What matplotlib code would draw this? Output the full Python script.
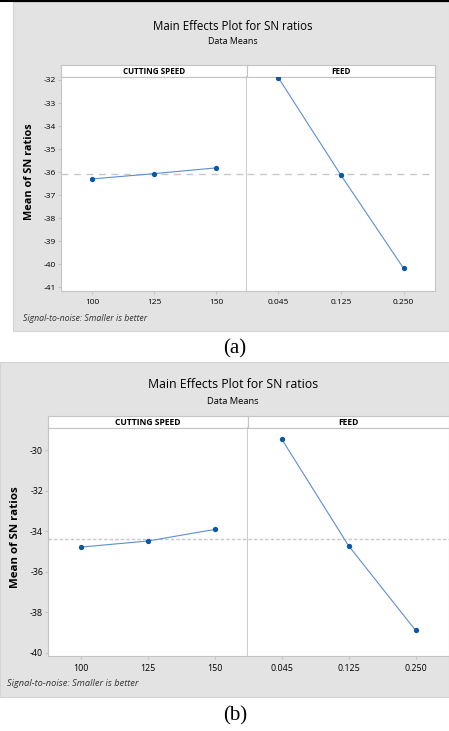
import numpy as np
import matplotlib
matplotlib.use('Agg')
import matplotlib.pyplot as plt
from matplotlib.patches import Rectangle
from matplotlib.lines import Line2D

plt.rcParams['font.family'] = ['Open Sans', 'DejaVu Sans']

#data
speed_levels = ['100', '125', '150']
feed_levels = ['0.045', '0.125', '0.250']
factor_names = ['CUTTING SPEED', 'FEED']

sn_speed_a = [-36.30, -36.07, -35.82]
sn_feed_a = [-31.90, -36.14, -40.19]
yticks_a = [-32, -33, -34, -35, -36, -37, -38, -39, -40, -41]

sn_speed_b = [-34.79, -34.49, -33.92]
sn_feed_b = [-29.44, -34.72, -38.90]
yticks_b = [-30, -32, -34, -36, -38, -40]

title = 'Main Effects Plot for SN ratios'
subtitle = 'Data Means'
ylabel = 'Mean of SN ratios'
footnote = 'Signal-to-noise: Smaller is better'

W, H = 449, 731
fig = plt.figure(figsize=(W/100, H/100), dpi=100)

def box(x0, y0, x1, y1):
    #pixel box (top-left origin) -> figure coords
    return [x0/W, 1 - y1/H, (x1 - x0)/W, (y1 - y0)/H]

bg = '#e3e3e3'
edge = '#c4c4c4'
dot_col = '#0b57a8'
line_col = '#5b8fd2'

def panel(gx0, gy0, gx1, gy1, px0, pmid, px1, sy0, sy1, py1, speed, feed, yticks, ylim,
          ls_mean, title_y, sub_y, ylab_x, ylab_y, foot_x, foot_y, cap, cap_y, scale):
    #gray background
    fig.patches.append(Rectangle((gx0/W, 1 - gy1/H), (gx1 - gx0)/W, (gy1 - gy0)/H,
                                 transform=fig.transFigure, facecolor=bg,
                                 edgecolor='#d4d4d4', lw=0.8, zorder=-5))
    fig.text(233/W, 1 - title_y/H, title, ha='center', va='center', fontsize=8.3*scale)
    fig.text(233/W, 1 - sub_y/H, subtitle, ha='center', va='center', fontsize=6.4*scale)

    allvals = speed + feed
    mean = np.mean(allvals)
    for i, (x0, x1, vals, levels) in enumerate([(px0, pmid, speed, speed_levels),
                                                (pmid, px1, feed, feed_levels)]):
        #strip header
        sax = fig.add_axes(box(x0, sy0, x1, sy1))
        sax.set_xticks([])
        sax.set_yticks([])
        for sp in sax.spines.values():
            sp.set_color(edge)
            sp.set_linewidth(0.8)
        sax.text(0.5, 0.45, factor_names[i], ha='center', va='center',
                 fontsize=5.8*scale, fontweight='bold', transform=sax.transAxes)

        ax = fig.add_axes(box(x0, sy1, x1, py1))
        x = np.arange(1, 4)
        ax.axhline(mean, color='#c8c8c8', lw=1.0, ls=ls_mean, zorder=1)
        ax.plot(x, vals, color=line_col, lw=0.8, zorder=2)
        ax.plot(x, vals, 'o', color=dot_col, ms=2.8, zorder=3)
        ax.set_xlim(0.5, 3.5)
        ax.set_ylim(*ylim)
        ax.set_xticks(x)
        ax.set_xticklabels(levels, fontsize=6.0*scale)
        ax.tick_params(axis='x', length=2, color=edge, pad=4)
        if i == 0:
            ax.set_yticks(yticks)
            ax.set_yticklabels([str(t) for t in yticks], fontsize=6.0*scale)
            ax.tick_params(axis='y', length=2, color=edge, pad=1.5)
            ax.spines['right'].set_linewidth(1.6)
            ax.spines['right'].set_color('#cfcfcf')
        else:
            ax.set_yticks([])
            ax.spines['left'].set_visible(False)
        for name in ['top', 'bottom']:
            ax.spines[name].set_color(edge)
            ax.spines[name].set_linewidth(0.8)
        if i == 0:
            ax.spines['left'].set_color(edge)
            ax.spines['left'].set_linewidth(0.8)
        else:
            ax.spines['right'].set_color(edge)
            ax.spines['right'].set_linewidth(0.8)

    fig.text(ylab_x/W, 1 - ylab_y/H, ylabel, rotation=90, ha='center',
             va='center', fontsize=7.8*scale, fontweight='bold')
    fig.text(foot_x/W, 1 - foot_y/H, footnote, ha='left', va='center',
             fontsize=6.3*scale, style='italic', color='#333333')
    fig.text(235/W, 1 - cap_y/H, cap, ha='center', va='center', fontsize=15,
             family='Liberation Serif')

#thin black rule at the very top
fig.add_artist(Line2D([0, 1], [1 - 1/H, 1 - 1/H], color='black', lw=1.5,
                      transform=fig.transFigure))

panel(13, 2, 449, 331, 61, 247, 435, 65, 77, 291, sn_speed_a, sn_feed_a, yticks_a,
      (-41.17, -31.87), (0, (5, 4)), 27, 41, 30, 172, 23, 319, '(a)', 349, 1.0)
panel(0, 362, 449, 697, 48, 248, 449, 416, 428, 656, sn_speed_b, sn_feed_b, yticks_b,
      (-40.17, -28.91), (0, (2.5, 1.5)), 385, 401, 15, 537, 7, 684, '(b)', 716, 1.06)

fig.savefig('out.png', dpi=100)
